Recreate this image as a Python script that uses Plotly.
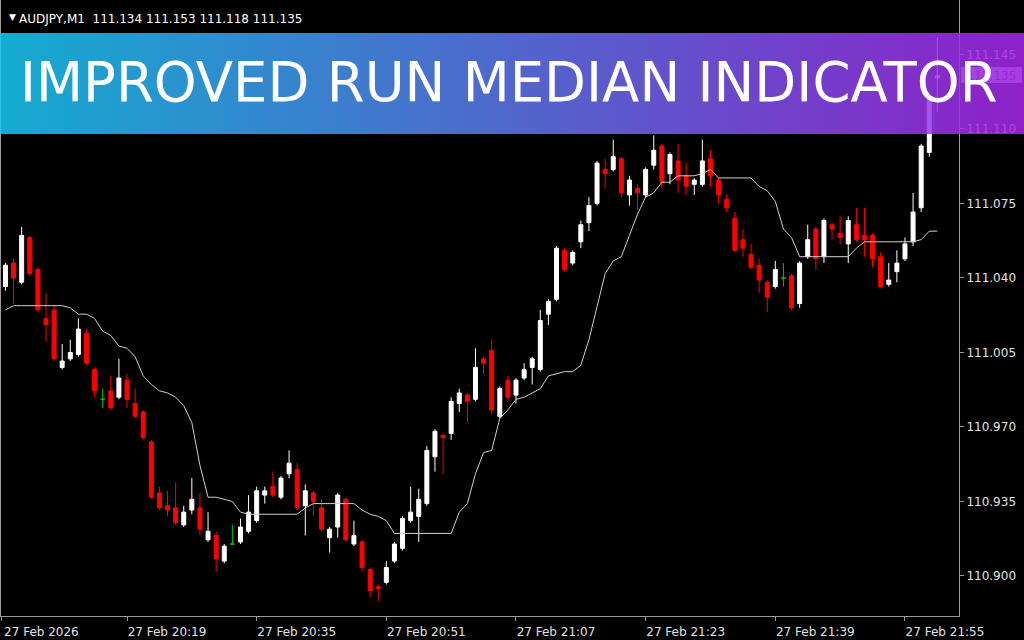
import base64
import pandas as pd
import plotly.graph_objects as go

# AUDJPY M1 bars, 27 Feb 2026 from 20:04, one bar per minute
times = pd.date_range("2026-02-27 20:04", periods=116, freq="min")

opens = [
    111.036, 111.047, 111.038, 111.059, 111.044, 111.021, 111.025, 110.998, 111.002, 111.004,
    111.014, 110.997, 110.983, 110.987, 110.984, 110.992, 110.981, 110.977, 110.963, 110.939,
    110.933, 110.932, 110.924, 110.931, 110.932, 110.917, 110.919, 110.907, 110.915, 110.916,
    110.921, 110.926, 110.938, 110.942, 110.937, 110.948, 110.950, 110.933, 110.939, 110.932,
    110.918, 110.923, 110.936, 110.915, 110.916, 110.903, 110.895, 110.897, 110.907, 110.913,
    110.926, 110.928, 110.934, 110.956, 110.966, 110.967, 110.981, 110.985, 110.983, 111.002,
    111.006, 110.975, 110.992, 110.985, 110.993, 110.998, 110.997, 111.023, 111.030, 111.053,
    111.047, 111.057, 111.066, 111.075, 111.091, 111.091, 111.096, 111.079, 111.082, 111.079,
    111.093, 111.102, 111.089, 111.095, 111.088, 111.084, 111.084, 111.096, 111.086, 111.077,
    111.068, 111.058, 111.051, 111.046, 111.038, 111.036, 111.040, 111.041, 111.028, 111.050,
    111.063, 111.050, 111.065, 111.061, 111.056, 111.065, 111.060, 111.060, 111.050, 111.037,
    111.043, 111.049, 111.057, 111.073, 111.099, 111.134,
]
highs = [
    111.047, 111.049, 111.064, 111.060, 111.045, 111.033, 111.027, 111.009, 111.011, 111.021,
    111.016, 110.998, 110.988, 110.994, 111.002, 110.995, 110.988, 110.978, 110.964, 110.942,
    110.940, 110.944, 110.933, 110.946, 110.939, 110.930, 110.921, 110.915, 110.924, 110.927,
    110.938, 110.942, 110.942, 110.949, 110.947, 110.959, 110.953, 110.943, 110.940, 110.936,
    110.923, 110.939, 110.937, 110.926, 110.917, 110.904, 110.896, 110.907, 110.916, 110.928,
    110.942, 110.941, 110.961, 110.969, 110.967, 110.984, 110.988, 110.986, 111.007, 111.003,
    111.011, 110.989, 110.994, 110.993, 111.000, 111.003, 111.025, 111.030, 111.055, 111.054,
    111.053, 111.067, 111.078, 111.095, 111.096, 111.105, 111.097, 111.088, 111.084, 111.092,
    111.107, 111.103, 111.099, 111.103, 111.094, 111.087, 111.105, 111.100, 111.087, 111.079,
    111.071, 111.063, 111.056, 111.049, 111.039, 111.048, 111.047, 111.042, 111.048, 111.065,
    111.064, 111.068, 111.066, 111.069, 111.069, 111.073, 111.073, 111.061, 111.052, 111.047,
    111.053, 111.059, 111.080, 111.103, 111.125, 111.153,
]
lows = [
    111.034, 111.028, 111.037, 111.041, 111.024, 111.010, 111.001, 110.997, 111.001, 111.003,
    110.999, 110.984, 110.979, 110.978, 110.983, 110.979, 110.974, 110.964, 110.936, 110.931,
    110.928, 110.924, 110.923, 110.929, 110.919, 110.916, 110.902, 110.906, 110.915, 110.915,
    110.920, 110.925, 110.934, 110.937, 110.936, 110.946, 110.931, 110.919, 110.928, 110.921,
    110.911, 110.918, 110.916, 110.914, 110.902, 110.890, 110.888, 110.896, 110.906, 110.912,
    110.925, 110.916, 110.933, 110.949, 110.948, 110.964, 110.977, 110.972, 110.982, 110.995,
    110.976, 110.974, 110.982, 110.981, 110.992, 110.990, 110.996, 111.018, 111.029, 111.043,
    111.046, 111.054, 111.062, 111.074, 111.082, 111.090, 111.078, 111.074, 111.072, 111.078,
    111.091, 111.082, 111.084, 111.080, 111.079, 111.079, 111.083, 111.083, 111.075, 111.071,
    111.052, 111.050, 111.044, 111.033, 111.024, 111.035, 111.036, 111.025, 111.026, 111.049,
    111.044, 111.047, 111.058, 111.056, 111.047, 111.057, 111.050, 111.045, 111.035, 111.036,
    111.038, 111.048, 111.055, 111.071, 111.097, 111.118,
]
closes = [
    111.046, 111.040, 111.060, 111.042, 111.025, 111.018, 111.002, 111.001, 111.005, 111.016,
    111.000, 110.987, 110.983, 110.979, 110.993, 110.983, 110.975, 110.965, 110.937, 110.932,
    110.931, 110.925, 110.930, 110.936, 110.922, 110.921, 110.908, 110.914, 110.915, 110.923,
    110.930, 110.940, 110.940, 110.938, 110.946, 110.953, 110.932, 110.940, 110.935, 110.922,
    110.922, 110.938, 110.917, 110.919, 110.904, 110.893, 110.894, 110.904, 110.915, 110.927,
    110.930, 110.936, 110.959, 110.968, 110.965, 110.982, 110.986, 110.982, 110.998, 111.000,
    110.978, 110.988, 110.984, 110.992, 110.997, 111.002, 111.020, 111.029, 111.054, 111.044,
    111.052, 111.065, 111.074, 111.094, 111.089, 111.097, 111.080, 111.086, 111.080, 111.091,
    111.100, 111.085, 111.098, 111.086, 111.083, 111.086, 111.095, 111.088, 111.079, 111.073,
    111.053, 111.054, 111.045, 111.039, 111.031, 111.044, 111.040, 111.026, 111.047, 111.058,
    111.049, 111.067, 111.063, 111.059, 111.067, 111.058, 111.058, 111.049, 111.036, 111.039,
    111.047, 111.056, 111.071, 111.102, 111.124, 111.135,
]
# Improved Run Median indicator line
median = [
    111.025, 111.027, 111.027, 111.027, 111.027, 111.027, 111.027, 111.027, 111.026, 111.023,
    111.023, 111.021, 111.015, 111.013, 111.008, 111.007, 111.003, 110.994, 110.990, 110.987,
    110.986, 110.984, 110.980, 110.972, 110.952, 110.937, 110.937, 110.936, 110.935, 110.930,
    110.929, 110.929, 110.929, 110.929, 110.929, 110.929, 110.929, 110.932, 110.934, 110.934,
    110.934, 110.934, 110.934, 110.934, 110.931, 110.929, 110.928, 110.926, 110.920, 110.920,
    110.920, 110.920, 110.920, 110.920, 110.920, 110.920, 110.930, 110.934, 110.948, 110.958,
    110.959, 110.974, 110.978, 110.983, 110.984, 110.986, 110.988, 110.994, 110.995, 110.996,
    110.996, 110.999, 111.011, 111.027, 111.042, 111.048, 111.050, 111.060, 111.070, 111.078,
    111.080, 111.085, 111.085, 111.088, 111.088, 111.088, 111.089, 111.091, 111.087, 111.087,
    111.087, 111.087, 111.087, 111.083, 111.081, 111.076, 111.063, 111.059, 111.050, 111.050,
    111.050, 111.050, 111.050, 111.050, 111.050, 111.054, 111.057, 111.057, 111.057, 111.057,
    111.057, 111.057, 111.057, 111.058, 111.062, 111.062,
]

price_ticks = [110.900, 110.935, 110.970, 111.005, 111.040, 111.075, 111.110, 111.145]
time_ticks = ["2026-02-27 20:03:30", "2026-02-27 20:19", "2026-02-27 20:35", "2026-02-27 20:51",
              "2026-02-27 21:07", "2026-02-27 21:23", "2026-02-27 21:39", "2026-02-27 21:55"]
time_labels = ["27 Feb 2026", "27 Feb 20:19", "27 Feb 20:35", "27 Feb 20:51",
               "27 Feb 21:07", "27 Feb 21:23", "27 Feb 21:39", "27 Feb 21:55"]

header = "AUDJPY,M1  111.134 111.153 111.118 111.135"
banner_text = "IMPROVED RUN MEDIAN INDICATOR"
bid_label = "111.135"

BG = "#000000"
AXIS = "#9a9a9a"
TEXT = "#e2e2e2"
BULL = "#ffffff"
BEAR = "#ff0000"
DOJI = "#00c800"
LINE = "#cfcfcf"
FONT = "DejaVu Sans"

# plot area: x 1..959 px, y 0..616 px
PW, PH = 958, 616


def px_x(px):
    return (px - 1) / PW


def px_y(py):
    return 1 - py / PH


candles = [i for i in range(len(opens)) if opens[i] != closes[i]]
dojis = [i for i in range(len(opens)) if opens[i] == closes[i]]


def pick(arr, idx):
    return [arr[i] for i in idx]


fig = go.Figure()
fig.add_trace(go.Candlestick(
    x=pick(times, candles), open=pick(opens, candles), high=pick(highs, candles),
    low=pick(lows, candles), close=pick(closes, candles),
    increasing=dict(line=dict(color=BULL, width=1), fillcolor=BULL),
    decreasing=dict(line=dict(color=BEAR, width=1), fillcolor=BEAR),
    whiskerwidth=0, hoverinfo="skip",
))
fig.add_trace(go.Candlestick(
    x=pick(times, dojis), open=pick(opens, dojis), high=pick(highs, dojis),
    low=pick(lows, dojis), close=pick(closes, dojis),
    increasing=dict(line=dict(color=DOJI, width=1), fillcolor=DOJI),
    decreasing=dict(line=dict(color=DOJI, width=1), fillcolor=DOJI),
    whiskerwidth=0, hoverinfo="skip",
))
fig.add_trace(go.Scatter(
    x=times, y=median, mode="lines",
    line=dict(color=LINE, width=1), hoverinfo="skip",
))

# gradient banner, semi transparent like the screenshot overlay
svg = (
    '<svg xmlns="http://www.w3.org/2000/svg" width="1024" height="101" '
    'viewBox="0 0 1024 101" preserveAspectRatio="none">'
    '<defs><linearGradient id="g" x1="0" y1="0" x2="1" y2="0">'
    '<stop offset="0" stop-color="rgb(23,202,245)"/>'
    '<stop offset="1" stop-color="rgb(167,38,236)"/>'
    '</linearGradient></defs>'
    '<rect width="1024" height="101" fill="url(#g)" fill-opacity="0.85"/></svg>'
)
banner_src = "data:image/svg+xml;base64," + base64.b64encode(svg.encode()).decode()

fig.update_layout(
    width=1024, height=640,
    margin=dict(l=1, r=65, t=0, b=24, pad=0),
    paper_bgcolor=BG, plot_bgcolor=BG,
    showlegend=False, hovermode=False,
    font=dict(family=FONT, size=12, color=TEXT),
    xaxis=dict(
        type="date", automargin=False,
        range=["2026-02-27 20:03:27", "2026-02-27 22:01:40"],
        rangeslider=dict(visible=False),
        showgrid=False, zeroline=False,
        showline=True, linecolor=AXIS, linewidth=1,
        ticks="outside", ticklen=4, tickcolor=AXIS,
        tickvals=time_ticks, ticktext=time_labels,
        ticklabelshift=40, ticklabelstandoff=1,
        tickfont=dict(family=FONT, size=12, color=TEXT),
    ),
    yaxis=dict(
        side="right", automargin=False,
        range=[110.8812, 111.1706],
        showgrid=False, zeroline=False,
        showline=True, mirror=True, linecolor=AXIS, linewidth=1,
        ticks="outside", ticklen=4, tickcolor=AXIS,
        tickvals=price_ticks, ticktext=[f"{v:.3f}" for v in price_ticks],
        tickfont=dict(family=FONT, size=12, color=TEXT),
    ),
    images=[dict(
        source=banner_src, xref="paper", yref="paper",
        x=px_x(0), y=px_y(33), sizex=1024 / PW, sizey=101 / PH,
        xanchor="left", yanchor="top", sizing="stretch", layer="above",
    )],
    shapes=[dict(
        type="rect", xref="paper", yref="paper", layer="below",
        x0=px_x(961), x1=px_x(1022), y0=px_y(83), y1=px_y(67),
        fillcolor="#b8b8b8", line=dict(width=0),
        label=dict(text=bid_label, font=dict(family=FONT, size=12, color="#303030")),
    )],
    annotations=[
        dict(text="▼", xref="paper", yref="paper", x=px_x(7), y=px_y(10),
             showarrow=False, font=dict(family=FONT, size=9, color="#ffffff")),
        dict(text=header, xref="paper", yref="paper", x=px_x(17), y=px_y(10),
             xanchor="left", showarrow=False,
             font=dict(family=FONT, size=12, color="#ffffff")),
        dict(text=banner_text, xref="paper", yref="paper", x=px_x(509), y=px_y(82),
             xanchor="center", yanchor="middle", showarrow=False,
             font=dict(family=FONT, size=54.5, color="#ffffff")),
    ],
)

# drop the default page margin so the 1024x640 figure fills the window
fig.write_html("out.html", config={"displayModeBar": False},
               post_script="document.body.style.margin='0';")
